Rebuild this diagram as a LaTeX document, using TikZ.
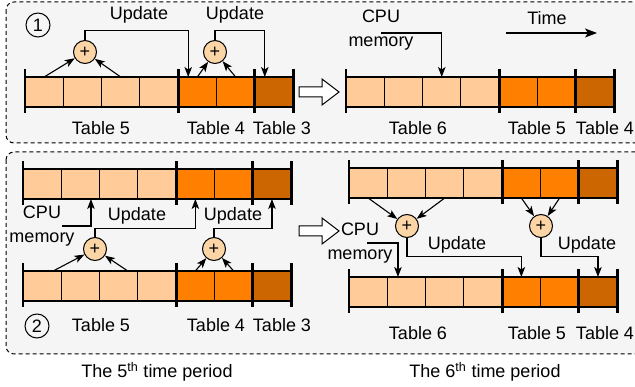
\documentclass[tikz,border=0pt]{standalone}
\usepackage{fontspec}
\setmainfont{Liberation Sans}
\usetikzlibrary{arrows.meta,calc}
\definecolor{lightcell}{HTML}{FFCC99}
\definecolor{midcell}{HTML}{FF8000}
\definecolor{darkcell}{HTML}{CC6600}
\definecolor{panelbg}{HTML}{F5F5F5}
\definecolor{sumfill}{HTML}{FCD5A6}

% A row of seven cells (4 light, 2 mid, 1 dark) with thick separators.
% #1 = name prefix, #2 = left x, #3 = top y
\newcommand\tablebar[3]{%
  \foreach \i in {1,...,7} {
    \ifnum\i<5 \def\cc{lightcell}\else\ifnum\i<7 \def\cc{midcell}\else\def\cc{darkcell}\fi\fi
    \node[cell, fill=\cc] (#1-\i) at ({#2+(\i-0.5)*38.3}, {#3+15}) {};
  }
  \foreach \k in {0,4,6,7}
    \draw[tick] ({#2+\k*38.3},{#3-8}) -- ({#2+\k*38.3},{#3+36});
}

\tikzset{
  cell/.style={draw, line width=1.1pt, minimum width=38.3pt, minimum height=30pt,
    inner sep=0pt, outer sep=0pt},
  tick/.style={line width=2.8pt},
  arr/.style={-{Stealth[length=10pt,width=7.5pt,inset=2.5pt]}, line width=1.1pt},
  bigarr/.style={-{Stealth[length=12pt,width=9pt,inset=3pt]}, line width=1.1pt},
  sum/.style={circle, draw, fill=sumfill, line width=1pt, minimum size=23pt, inner sep=0pt},
  num/.style={circle, draw, line width=1pt, minimum size=24pt, inner sep=0pt},
  panel/.style={draw, dash pattern=on 4pt off 3pt, line width=1pt, rounded corners=8pt, fill=panelbg},
  blockarrow/.style={draw, line width=1pt, fill=white, line join=miter},
}

\begin{document}
\begin{tikzpicture}[x=1pt, y=-1pt, font=\fontsize{18pt}{24pt}\selectfont, inner sep=1pt]
\useasboundingbox (0,0) rectangle (635,387);
\clip (0,0) rectangle (635,387);

% panels
\draw[panel] (6,2) rectangle (660,143);
\draw[panel] (6,152) rectangle (660,354);

% ---------- case 1 ----------
\tablebar{pa}{25}{77}
\tablebar{pb}{346}{77}
\node[sum] (s1) at (85,52) {+};
\node[sum] (s2) at (215,52) {+};
\draw[arr] (pa-1.north) -- (s1);
\draw[arr] (pa-3.north) -- (s1);
\draw[arr] (pa-5.north) -- (s2);
\draw[arr] (pa-6.north) -- (s2);
\draw[arr] (s1.north) -- ++(0,-9.5) -| ([xshift=10pt]pa-5.north west);
\draw[arr] (s2.north) -- ++(0,-9.5) -| ([xshift=10pt]pa-7.north west);
\node (up1) at (139,15) {Update};
\node (up2) at (235,15) {Update};
\node[num] (n1) at (38,25) {1};

\node[align=center] (cpu1) at (381,30) {CPU\\memory};
\draw[arr] (cpu1.center) ++(0,3) -| (pb-3.north);

\node (time) at (547,18) {Time};
\coordinate (t0) at (506,33);
\coordinate (t1) at (597,33);
\draw[bigarr] (t0) -- (t1);

\draw[blockarrow] (299,87) -- (322,87) -- (322,79) -- (339,92) -- (322,105) -- (322,97) -- (299,97) -- cycle;

\node (la5) at (101,128) {Table 5};
\node (la4) at (216,128) {Table 4};
\node (la3) at (282,128) {Table 3};
\node (lb6) at (418,128) {Table 6};
\node (lb5) at (537,128) {Table 5};
\node (lb4) at (605,128) {Table 4};

% ---------- case 2 ----------
\tablebar{pc}{23}{169}
\tablebar{pd}{23}{271}
\tablebar{pe}{349}{168}
\tablebar{pf}{349}{277}

\node[sum] (s3) at (95,249) {+};
\node[sum] (s4) at (214,249) {+};
\draw[arr] ([xshift=11pt]pd-1.north) -- (s3);
\draw[arr] ([xshift=9pt]pd-3.north) -- (s3);
\draw[arr] (pd-5.north) -- (s4);
\draw[arr] (pd-6.north) -- (s4);
\draw[arr] (s3.north) -- ++(0,-8.5) -| (pc-5.south);
\draw[arr] (s4.north) -- ++(0,-8.5) -| (pc-7.south);
\node (up3) at (137,216) {Update};
\node (up4) at (233,216) {Update};
\node[align=center] (cpu2) at (42,226) {CPU\\memory};
\draw[arr] ([xshift=20pt]cpu2.center) -| ([xshift=10.5pt]pc-2.south);

\node[sum] (s5) at (407,226) {+};
\node[sum] (s6) at (541,226) {+};
\draw[arr] (pe-1.south) -- (s5);
\draw[arr] (pe-3.south) -- (s5);
\draw[arr] (pe-5.south) -- (s6);
\draw[arr] (pe-6.south) -- (s6);
\draw[arr] (s5.south) -- ++(0,18.5) -| (pf-5.north);
\draw[arr] (s6.south) -- ++(0,18.5) -| (pf-7.north);
\node (up5) at (457,245) {Update};
\node (up6) at (587,245) {Update};
\node[align=center] (cpu3) at (360,243) {CPU\\memory};
\draw[arr] ([xshift=7pt]cpu3.center) -| ([xshift=-8.5pt]pf-2.north);

\draw[blockarrow] (299,226) -- (322,226) -- (322,218) -- (339,231) -- (322,244) -- (322,236) -- (299,236) -- cycle;

\node (lc5) at (101,325) {Table 5};
\node (lc4) at (216,325) {Table 4};
\node (lc3) at (282,325) {Table 3};
\node (ld6) at (418,333) {Table 6};
\node (ld5) at (537,333) {Table 5};
\node (ld4) at (605,333) {Table 4};
\node[num] (n2) at (37,326) {2};

% captions
\node (per5) at (157,372) {The 5\textsuperscript{th} time period};
\node (per6) at (485,372) {The 6\textsuperscript{th} time period};
\end{tikzpicture}
\end{document}
